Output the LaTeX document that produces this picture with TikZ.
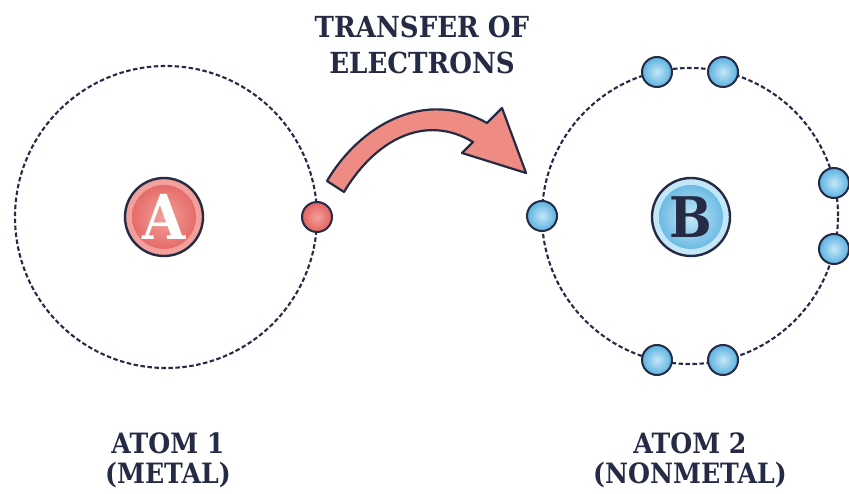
\documentclass[tikz,border=0pt]{standalone}
\usepackage{fontspec}
\setmainfont{DejaVu Serif}[FakeStretch=0.9]
\begin{document}
\begin{tikzpicture}[x=1pt,y=-1pt]
\definecolor{ink}{HTML}{262B45}
\definecolor{redDeep}{HTML}{E3615E}
\definecolor{redLight}{HTML}{F2A09B}
\definecolor{arrowfill}{HTML}{EE8C84}
\definecolor{blueDeep}{HTML}{5AB1E0}
\definecolor{blueLight}{HTML}{C4E7F7}
\tikzset{
  orbit/.style={draw=ink, line width=2.1pt, dash pattern=on 4.5pt off 2.5pt},
  nucleus/.style={circle, draw=ink, line width=2.4pt, minimum size=78pt, inner sep=0pt},
  redcore/.style={nucleus, fill=redLight, text=white,
    font=\bfseries\fontsize{62}{62}\selectfont,
    path picture={\shade[inner color=redLight, outer color=redDeep]
      (path picture bounding box.center) circle (32pt);}},
  bluecore/.style={nucleus, fill=blueLight, text=ink,
    font=\bfseries\fontsize{56}{56}\selectfont,
    path picture={\shade[inner color=blueLight, outer color=blueDeep]
      (path picture bounding box.center) circle (32pt);}},
  electron/.style={circle, draw=ink, line width=2pt, minimum size=30pt, inner sep=0pt},
  redel/.style={electron, shading=radial, inner color=redLight, outer color=redDeep},
  blueel/.style={electron, shading=radial, inner color=blueLight, outer color=blueDeep},
  caption/.style={align=center, text=ink},
  titletext/.style={caption, font=\bfseries\fontsize{29}{36}\selectfont},
  atomtext/.style={caption, font=\bfseries\fontsize{28}{30}\selectfont},
}
\useasboundingbox[fill=white] (0,0) rectangle (849,494);

% orbits
\draw[orbit] (166,217) circle (151pt);
\draw[orbit] (690,216) circle (148pt);

% nuclei
\node[redcore] (A) at (164,217) {A};
\node[bluecore] (B) at (691,217) {B};

% electrons
\node[redel] (e1) at (317,217) {};
\node[blueel] (b1) at (542,216) {};
\node[blueel] (b2) at (657,72) {};
\node[blueel] (b3) at (723,72) {};
\node[blueel] (b4) at (834,183) {};
\node[blueel] (b5) at (834,249) {};
\node[blueel] (b6) at (657,360) {};
\node[blueel] (b7) at (723,360) {};

% curved transfer arrow
\draw[ink, line width=2.2pt, fill=arrowfill, line join=round]
  (327,181) .. controls (360,125) and (425,88) .. (487,123)
  -- (502,108) -- (526,173) -- (462,153) -- (473,142)
  .. controls (425,113) and (375,140) .. (344,192) -- cycle;

% captions
\node[titletext] (title) at (422,45) {TRANSFER OF\\ELECTRONS};
\node[atomtext] (lab1) at (168,460) {ATOM 1\\(METAL)};
\node[atomtext] (lab2) at (690,460) {ATOM 2\\(NONMETAL)};
\end{tikzpicture}
\end{document}
